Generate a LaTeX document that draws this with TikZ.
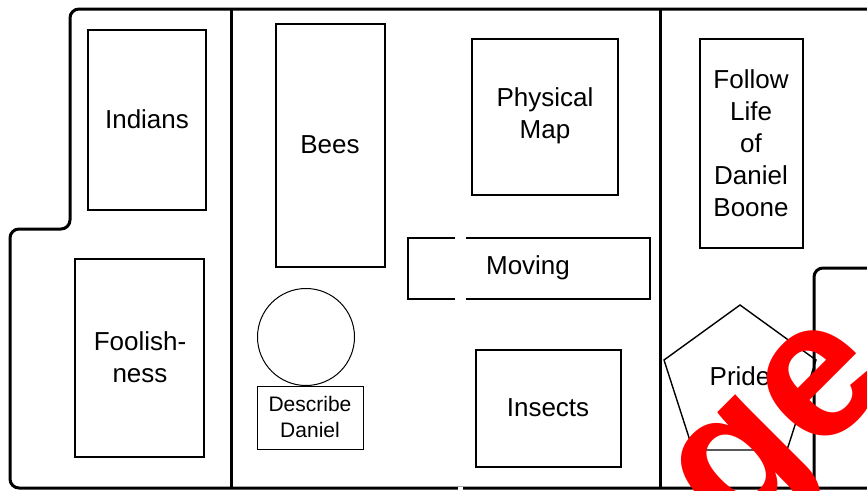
\documentclass[tikz,border=0pt]{standalone}
\usepackage{fontspec}
\setmainfont{Liberation Sans}
\begin{document}
\begin{tikzpicture}[x=1pt,y=1pt,yscale=-1,xscale=1,
  wall/.style={line width=3pt,rounded corners=9pt},
  topic/.style={draw,line width=1.8pt},
  thin/.style={draw,line width=1pt},
  lbl/.style={align=center,inner sep=0.75pt,font=\fontsize{26}{32}\selectfont},
  small/.style={align=center,inner sep=0.75pt,font=\fontsize{21}{26}\selectfont}]
\useasboundingbox (0,0) rectangle (867,490);

%Outer walls
\draw [wall] (875,9) -- (70,9) -- (70,229) -- (10,229) -- (10,488) -- (875,488) ;
\draw [wall] (814,498) -- (814,268) -- (875,268) ;
%Dividers
\draw [line width=3pt] (231,9) -- (231,488) ;
\draw [line width=3pt] (660,9) -- (660,488) ;

%Left room
\draw [topic] (88,30) rectangle (206,210) ;
\draw [topic] (75,259) rectangle (204,457) ;
%Middle room
\draw [topic] (276,24) rectangle (385,267) ;
\draw [thin] (306,337) circle (48.5) ;
\draw [thin] (257,386) rectangle (363,449) ;
\draw [topic] (472,39) rectangle (618,195) ;
\draw [topic] (408,238) rectangle (650,299) ;
\draw [topic] (476,350) rectangle (621,467) ;
%Right room
\draw [topic] (700,39) rectangle (803,248) ;
\draw [line width=1.4pt] (740,305) -- (816,360) -- (787,450) -- (693,450) -- (664,360) -- cycle ;

%Gaps
\draw [white,line width=11pt] (460.5,236) -- (460.5,301) ;
\draw [white,line width=3pt] (460.5,11) -- (460.5,13) ;
\draw [white,line width=5pt] (460,486.5) -- (460,491) ;

% Text Node
\node [lbl] (indians) at (147,119) {Indians};
% Text Node
\node [lbl] (foolish) at (140,357) {Foolish-\\ness};
% Text Node
\node [lbl] (bees) at (330,145) {Bees};
% Text Node
\node [small] (describe) at (310,417) {Describe\\Daniel};
% Text Node
\node [lbl] (map) at (545,116) {Physical\\Map};
% Text Node
\node [lbl] (moving) at (528,268) {Moving};
% Text Node
\node [lbl] (insects) at (548,408) {Insects};
% Text Node
\node [lbl] (boone) at (751,143) {Follow\\Life\\of\\Daniel\\Boone};
% Text Node
\node [lbl] (pride) at (740,376) {Pride};
% Text Node
\node [anchor=base west,inner sep=0pt,rotate=45,text=red,font=\fontsize{195}{195}\selectfont\bfseries] (stamp) at (733,543) {ge};

\end{tikzpicture}
\end{document}
